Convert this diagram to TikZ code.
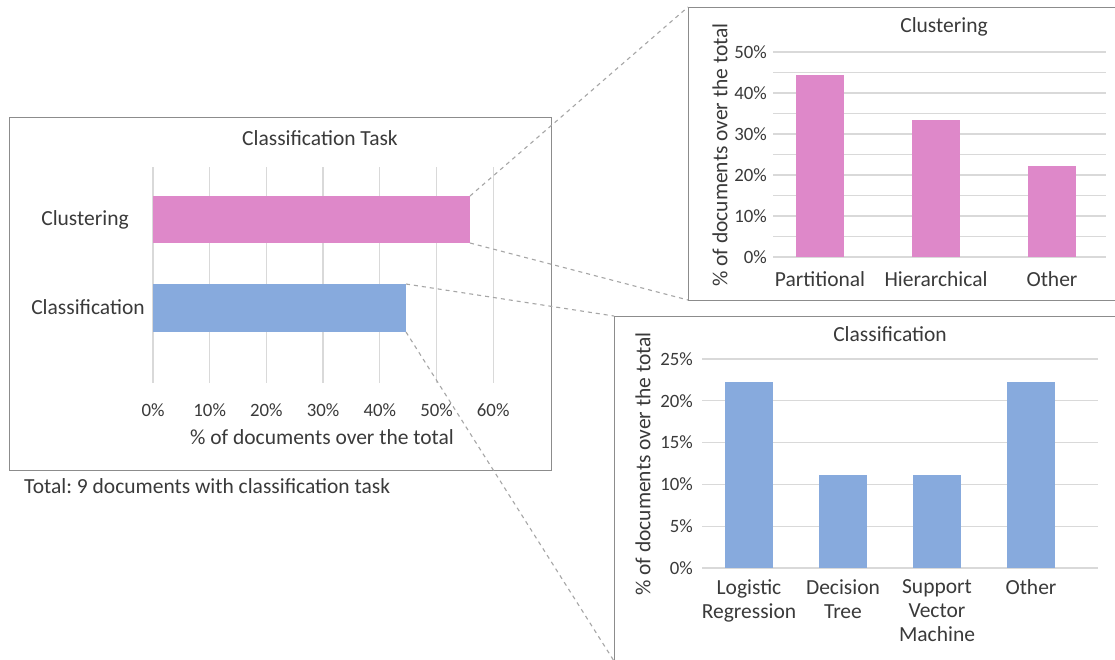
\documentclass[tikz,border=0pt]{standalone}
\usepackage{fontspec}
\setmainfont{Carlito}
\usepackage{tikz}
\usetikzlibrary{positioning}
\frenchspacing
\definecolor{pinkc}{HTML}{DE88C9}
\definecolor{bluec}{HTML}{87AADD}
\definecolor{gridc}{HTML}{D9D9D9}
\definecolor{framec}{HTML}{8C8C8C}
\definecolor{txtc}{HTML}{3A3A3A}
\definecolor{zoomc}{HTML}{A6A6A6}
\tikzset{
  frm/.style={draw=framec,line width=1pt,fill=white,inner sep=0pt,outer sep=0pt},
  gl/.style={gridc,line width=1.3pt},
  barp/.style={fill=pinkc,inner sep=0pt,outer sep=0pt,minimum width=48},
  barb/.style={fill=bluec,inner sep=0pt,outer sep=0pt,minimum width=48},
  tk/.style={font=\fontsize{18.8}{20}\selectfont,text=txtc,inner sep=0pt},
  lbl/.style={font=\fontsize{21.5}{24}\selectfont,text=txtc,inner sep=0pt},
  zl/.style={zoomc,line width=1.1pt,dash pattern=on 4pt off 4pt}
}
\begin{document}
\begin{tikzpicture}[x=1pt,y=-1pt]
\useasboundingbox[fill=white] (0,0) rectangle (1115,659);
\node[frm,minimum width=542,minimum height=353] (mainbox) at (280,293.5) {};
\node[frm,minimum width=429,minimum height=293] (clubox) at (902.5,153.5) {};
\node[frm,minimum width=503,minimum height=345] (clsbox) at (865.5,488.5) {};
% main chart
\node[lbl,anchor=base] (maintitle) at (320,145) {Classification Task};
\foreach \p in {0,10,...,60}{
  \draw[gl] ({153+5.67*\p},167) -- ({153+5.67*\p},383);
  \node[tk,anchor=base] (mx\p) at ({153+5.67*\p},416) {\p\%};
}
\node[barp,anchor=west,minimum width=317,minimum height=47] (clubar) at (153,219.5) {};
\node[barb,anchor=west,minimum width=253,minimum height=48] (clsbar) at (153,308) {};
\node[lbl,anchor=base] (clulbl) at (85,225) {Clustering};
\node[lbl,anchor=base] (clslbl) at (88,314) {Classification};
\node[lbl,anchor=base] (mainax) at (322,444) {\% of documents over the total};
\node[lbl,anchor=base west] (total) at (24,493) {Total: 9 documents with classification task};
% clustering chart
\node[lbl,anchor=base] (cutitle) at (944,32) {Clustering};
\foreach \p in {0,5,...,50}
  \draw[gl] (773,{257-4.1*\p}) -- (1106,{257-4.1*\p});
\foreach \p in {0,10,...,50}
  \node[tk,anchor=east] (cy\p) at (767,{257-4.1*\p}) {\p\%};
\foreach \x/\h/\nm/\t in {820/182/cpa/Partitional,936/137/chi/Hierarchical,1052/91/cot/Other}{
  \node[barp,anchor=south,minimum height=\h] (\nm) at (\x,257) {};
  \node[lbl,anchor=base] (\nm l) at (\x,286) {\t};
}
\node[lbl,rotate=90] (cuax) at (720,155) {\% of documents over the total};
% classification chart
\node[lbl,anchor=base] (cltitle) at (890,341) {Classification};
\foreach \p in {0,5,...,25}{
  \draw[gl] (702,{568-8.36*\p}) -- (1098,{568-8.36*\p});
  \node[tk,anchor=east] (ky\p) at (693,{568-8.36*\p}) {\p\%};
}
\foreach \x/\h/\nm/\t in {749/186/klr/{Logistic\\Regression},843/93/kdt/{Decision\\Tree},937/93/ksv/{Support\\Vector\\Machine},1031/186/kot/Other}{
  \node[barb,anchor=south,minimum height=\h] (\nm) at (\x,568) {};
  \node[lbl,anchor=north,align=center] (\nm l) at (\x,579) {\t};
}
\node[lbl,rotate=90] (clax) at (643,464) {\% of documents over the total};
% zoom lines
\draw[zl] (clubar.north east) -- (clubox.north west);
\draw[zl] (clubar.south east) -- (clubox.south west);
\draw[zl] (clsbar.north east) -- (clsbox.north west);
\draw[zl] (clsbar.south east) -- (clsbox.south west);
\end{tikzpicture}
\end{document}
